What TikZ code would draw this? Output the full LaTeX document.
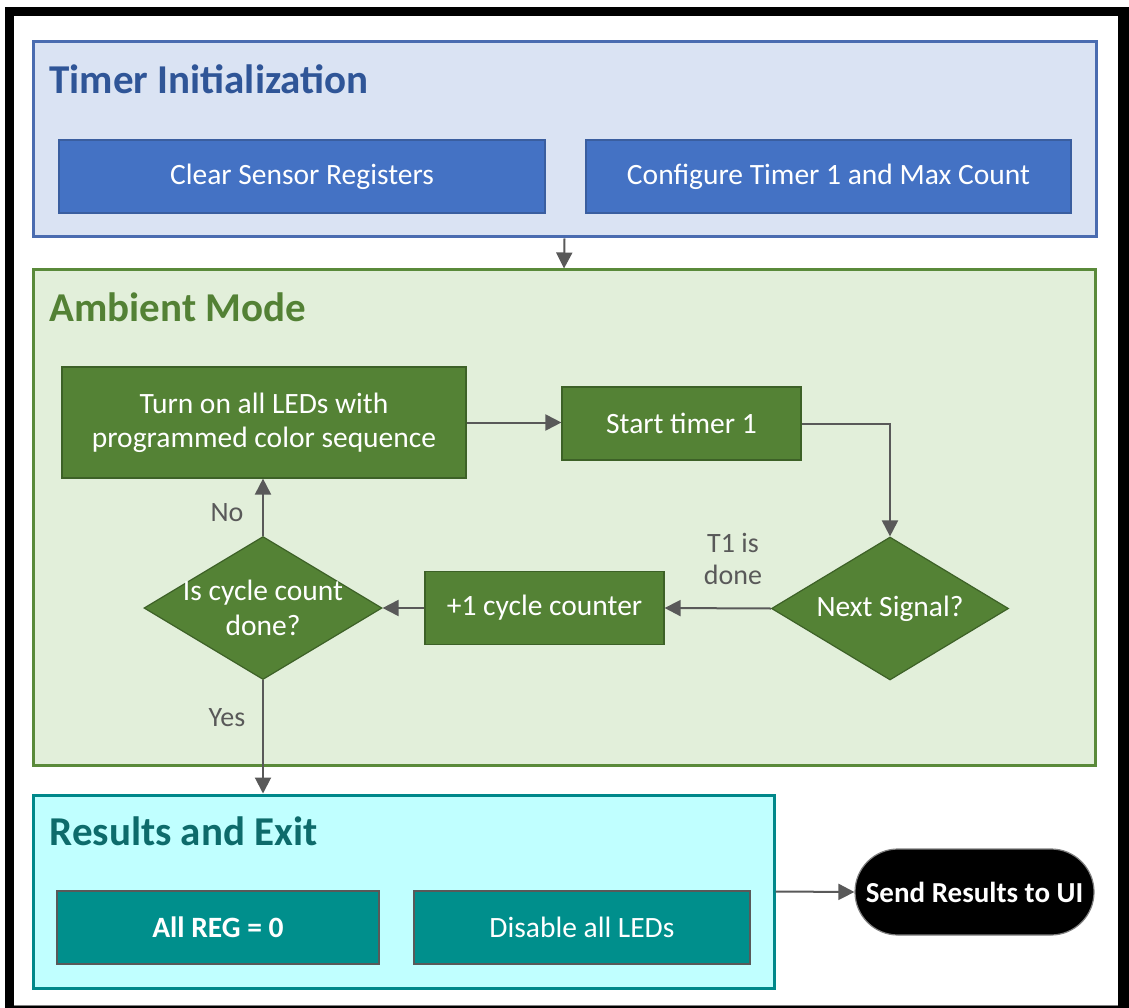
\documentclass[tikz,border=0pt]{standalone}
\usepackage{fontspec}
\setmainfont{Carlito}
\usetikzlibrary{shapes.geometric}
\usetikzlibrary{arrows.meta}

\definecolor{initfill}{HTML}{DAE3F3}
\definecolor{initline}{HTML}{4A6CB0}
\definecolor{inittext}{HTML}{2F5597}
\definecolor{initbox}{HTML}{4472C4}
\definecolor{initedge}{HTML}{3A5E9F}
\definecolor{ambfill}{HTML}{E2EFDA}
\definecolor{ambline}{HTML}{5A8A3A}
\definecolor{ambtext}{HTML}{538135}
\definecolor{ambbox}{HTML}{548235}
\definecolor{ambedge}{HTML}{3D6127}
\definecolor{resfill}{HTML}{C0FFFF}
\definecolor{resline}{HTML}{00888A}
\definecolor{restext}{HTML}{0D6B6B}
\definecolor{resbox}{HTML}{008F8C}
\definecolor{resedge}{HTML}{595959}
\definecolor{linkgray}{HTML}{595959}

\tikzset{
	panel/.style={draw=#1line, fill=#1fill, line width=3pt, inner sep=0pt},
	paneltitle/.style={anchor=west, text=#1text, font=\fontsize{41}{44}\selectfont\bfseries},
	stepbox/.style={draw=#1edge, fill=#1box, line width=1.2pt, text=white,
		align=center, font=\fontsize{29.5}{34}\selectfont, inner sep=0pt},
	decision/.style={diamond, draw=ambedge, fill=ambbox, line width=1.2pt, inner sep=0pt},
	dectext/.style={text=white, align=center, font=\fontsize{29.5}{35}\selectfont},
	link/.style={draw=linkgray, line width=2pt, -{Triangle[length=16pt,width=16pt]}},
	linktext/.style={text=linkgray, align=center, font=\fontsize{28}{32}\selectfont}
}

\begin{document}
\begin{tikzpicture}[x=1pt, y=-1pt]
\useasboundingbox (0,0) rectangle (1129,1008);

% frame
\fill[black] (5,7) rectangle (1129,1008);
\fill[white] (14,16) rectangle (1118,1005);
\draw[gray, line width=1pt] (14,1005) -- (1118,1005);

% panels
\node[panel=init, minimum width=1063, minimum height=195] (init) at (564.5,139.5) {};
\node[panel=amb, minimum width=1062, minimum height=495] (amb) at (564,517.5) {};
\node[panel=res, minimum width=741, minimum height=193] (res) at (403.5,891.5) {};

\node[paneltitle=init] (inittitle) at (46,79) {Timer Initialization};
\node[paneltitle=amb] (ambtitle) at (46,307) {Ambient Mode};
\node[paneltitle=res] (restitle) at (46,831) {Results and Exit};

% timer initialization
\node[stepbox=init, minimum width=486, minimum height=73] (clr) at (302,176.5) {Clear Sensor Registers};
\node[stepbox=init, minimum width=485, minimum height=73] (cfg) at (828.5,176.5) {Configure Timer 1 and Max Count};

% ambient mode
\node[stepbox=amb, minimum width=404, minimum height=111] (leds) at (264,422.5) {Turn on all LEDs with\\programmed color sequence};
\node[stepbox=amb, minimum width=239, minimum height=73] (start) at (681.5,423.5) {Start timer 1};
\node[decision, minimum width=237, minimum height=143, label={[dectext]center:Next Signal?}] (next) at (890,608.5) {};
\node[stepbox=amb, minimum width=239, minimum height=73] (inc) at (544.5,608) {+1 cycle counter};
\node[decision, minimum width=238, minimum height=143, label={[dectext]center:Is cycle count\\done?}] (cyc) at (263,608) {};

% results and exit
\node[stepbox=res, minimum width=322, minimum height=73, font=\fontsize{29.5}{34}\selectfont\bfseries] (allreg) at (218,927.5) {All REG = 0};
\node[stepbox=res, minimum width=336, minimum height=73] (dis) at (582,927.5) {Disable all LEDs};
\node[draw=gray, fill=black, line width=1.2pt, rounded corners=43pt, minimum width=239, minimum height=86,
	text=white, font=\fontsize{29}{32}\selectfont\bfseries] (send) at (974.5,892) {Send Results to UI};

% connectors
\draw[link] (init.south) -- (amb.north);
\draw[link] (leds.east) -- (leds.east -| start.west);
\draw[link] (start.east) -| (next.north);
\draw[link] (next.west) -- (inc.east);
\draw[link] (inc.west) -- (cyc.east);
\draw[link] (cyc.north) -- (cyc.north |- leds.south);
\draw[link] (cyc.south) -- (cyc.south |- res.north);
\draw[link] (res.east) -- (send.west);

\node[linktext] (nolbl) at (227,513) {No};
\node[linktext] (yeslbl) at (227,718) {Yes};
\node[linktext] (donelbl) at (733,559) {T1 is\\done};
\end{tikzpicture}
\end{document}
